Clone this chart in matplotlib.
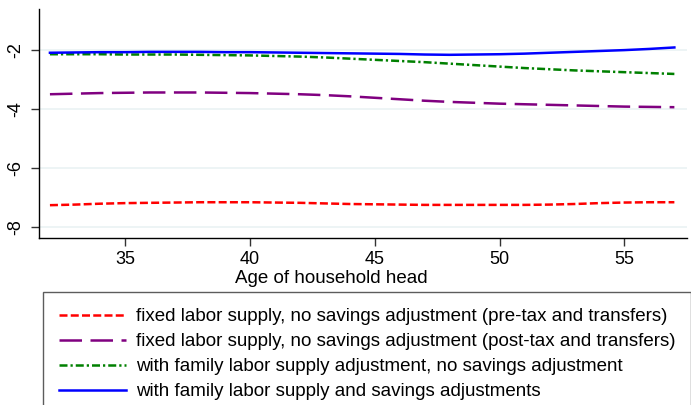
import numpy as np
import matplotlib
matplotlib.use("Agg")
import matplotlib.pyplot as plt

plt.rcParams['font.family'] = ['Liberation Sans', 'DejaVu Sans']

ages = list(range(32, 58))

# percent change by age of household head
pre_tax = [-7.27, -7.25, -7.22, -7.20, -7.19, -7.18, -7.17, -7.17, -7.17, -7.18,
           -7.19, -7.21, -7.23, -7.24, -7.25, -7.26, -7.26, -7.26, -7.26, -7.26,
           -7.25, -7.23, -7.20, -7.18, -7.17, -7.17]
post_tax = [-3.50, -3.48, -3.46, -3.45, -3.44, -3.44, -3.44, -3.45, -3.46, -3.48,
            -3.50, -3.53, -3.57, -3.62, -3.67, -3.72, -3.76, -3.79, -3.82, -3.84,
            -3.86, -3.88, -3.90, -3.92, -3.93, -3.94]
family_labor = [-2.14, -2.14, -2.14, -2.15, -2.15, -2.15, -2.16, -2.17, -2.18, -2.20,
                -2.22, -2.25, -2.29, -2.33, -2.37, -2.41, -2.46, -2.51, -2.56, -2.61,
                -2.65, -2.69, -2.72, -2.75, -2.78, -2.81]
labor_savings = [-2.09, -2.08, -2.07, -2.07, -2.06, -2.06, -2.06, -2.07, -2.07, -2.08,
                 -2.09, -2.10, -2.11, -2.12, -2.13, -2.15, -2.16, -2.15, -2.14, -2.12,
                 -2.09, -2.06, -2.03, -2.00, -1.96, -1.91]

labels = [
    "fixed labor supply, no savings adjustment (pre-tax and transfers)",
    "fixed labor supply, no savings adjustment (post-tax and transfers)",
    "with family labor supply adjustment, no savings adjustment",
    "with family labor supply and savings adjustments",
]
x_ticks = [35, 40, 45, 50, 55]
y_ticks = [-2, -4, -6, -8]

fig = plt.figure(figsize=(6.91, 4.05), dpi=100)
ax = fig.add_axes([0.056, 0.412, 0.938, 0.566])

lw = 1.8
ax.plot(ages, pre_tax, color='#ff0000', lw=lw, dashes=(3.2, 1.3), label=labels[0])
ax.plot(ages, post_tax, color='#800080', lw=lw, dashes=(9, 3.4), label=labels[1])
ax.plot(ages, family_labor, color='#008000', lw=lw, dashes=(3.2, 1.2, 0.9, 1.2), label=labels[2])
ax.plot(ages, labor_savings, color='#0000ff', lw=lw, label=labels[3])

ax.set_xlim(31.55, 57.5)
ax.set_ylim(-8.39, -0.6)
ax.set_xticks(x_ticks)
ax.set_yticks(y_ticks)
ax.set_yticklabels([str(v) for v in y_ticks], rotation=90, va='center')
ax.tick_params(axis='both', labelsize=13, length=5.5, width=1, color='#333333')
ax.tick_params(axis='x', pad=3.5)
ax.tick_params(axis='y', pad=5)
ax.grid(axis='y', color='#eaf2f3', lw=1.2)
ax.set_axisbelow(True)
for s in ['top', 'right']:
    ax.spines[s].set_visible(False)
for s in ['left', 'bottom']:
    ax.spines[s].set_linewidth(1)
ax.set_xlabel("Age of household head", fontsize=13.5)
ax.xaxis.set_label_coords(0.452, -0.14)

handles, labs = ax.get_legend_handles_labels()
leg = fig.legend(handles, labs, loc='upper left', bbox_to_anchor=(43 / 691, 1 - 292 / 405),
                 fontsize=13.5, handlelength=3.6, handletextpad=0.5, labelspacing=0.42,
                 borderpad=0.85, borderaxespad=0, fancybox=False, frameon=True,
                 edgecolor='#333333')
leg.get_frame().set_linewidth(1)

fig.savefig("out.png", dpi=100)
